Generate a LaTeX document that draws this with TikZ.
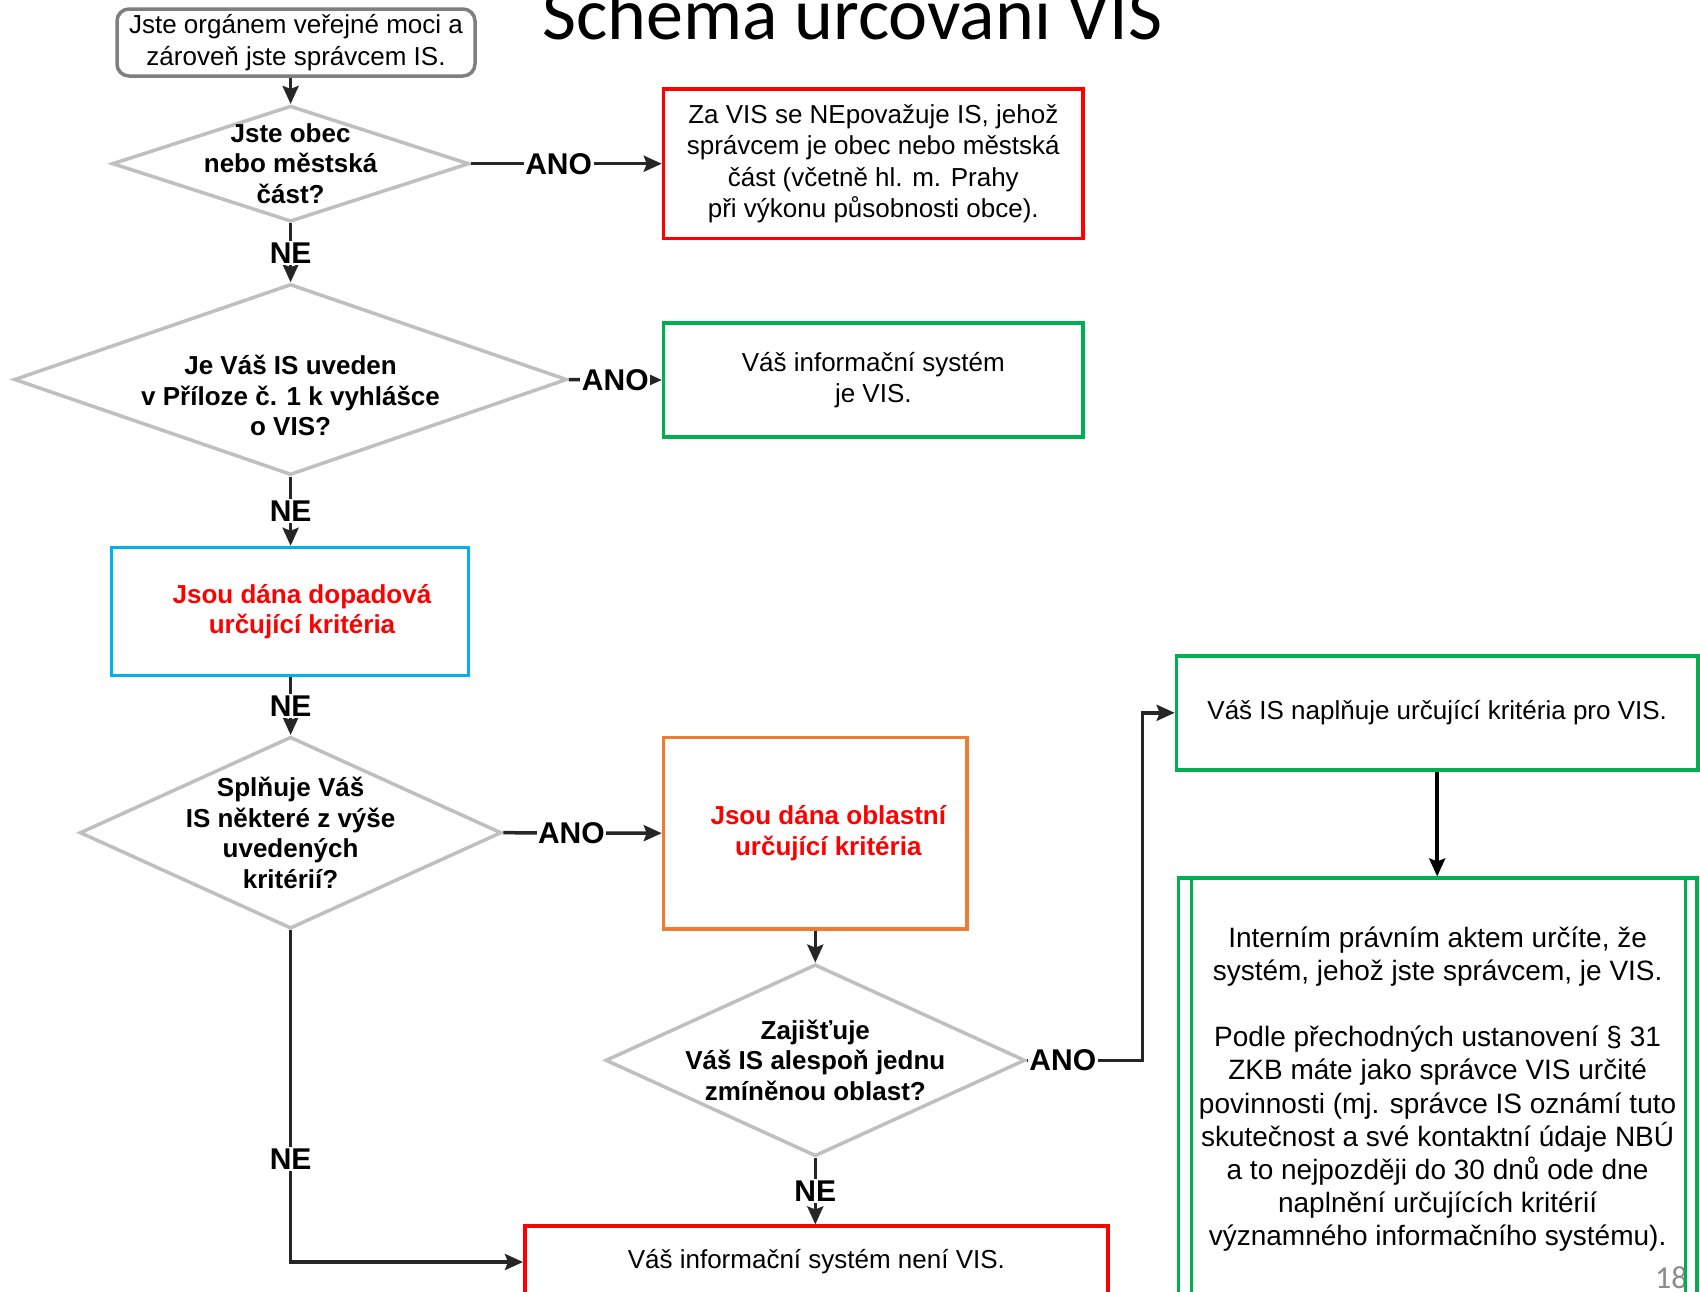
\documentclass[tikz,border=0pt]{standalone}
\usepackage{fontspec}
\setmainfont{Liberation Sans}
\newfontfamily\titlefont{Carlito}
\usetikzlibrary{arrows.meta,shapes.geometric}
\definecolor{visred}{HTML}{FF0000}
\definecolor{visgreen}{HTML}{00B050}
\definecolor{visblue}{HTML}{00B0F0}
\definecolor{visorange}{HTML}{ED7D31}
\definecolor{diagray}{HTML}{BFBFBF}
\definecolor{startgray}{HTML}{7F7F7F}
\definecolor{arrgray}{HTML}{262626}
\definecolor{numgray}{HTML}{8C8C8C}
\tikzset{
  box/.style={draw,line width=3.5pt,inner sep=0pt,align=center,
    font=\fontsize{26}{31.4}\selectfont},
  decision/.style={diamond,draw=diagray,line width=3.5pt,inner sep=0pt},
  qtext/.style={align=center,font=\bfseries\fontsize{26}{30.5}\selectfont},
  redtext/.style={text=visred,font=\bfseries\fontsize{26}{30.4}\selectfont},
  answer/.style={fill=white,inner sep=1.5pt,font=\bfseries\fontsize{30}{36}\selectfont},
  arr/.style={draw=arrgray,line width=3.5pt,-{Stealth[length=18pt,width=16pt,inset=3pt]}},
}
\begin{document}
\begin{tikzpicture}[x=1pt,y=-1pt]
\path[use as bounding box,fill=white] (0,0) rectangle (1700,1291);
\node (title) at (542,39) [anchor=base west,inner sep=0pt,
  font=\titlefont\fontsize{74}{80}\selectfont] {Schéma určování VIS};
\node (pagenum) at (1655,1288) [anchor=base west,inner sep=0pt,text=numgray,
  font=\titlefont\fontsize{32}{36}\selectfont] {18};

\node (start) at (296,42.5) [box,draw=startgray,rounded corners=12pt,
  minimum width=358pt,minimum height=67pt] {Jste orgánem veřejné moci a\\zároveň jste správcem IS.};
\node (obec) at (290.6,163.7) [decision,minimum width=357pt,minimum height=116pt,
  label={[qtext]center:Jste obec\\nebo městská\\část?}] {};
\node (notvis) at (873.3,163.7) [box,draw=visred,minimum width=419.6pt,minimum height=149.6pt]
  {Za VIS se NEpovažuje IS, jehož\\správcem je obec nebo městská\\část (včetně hl. m. Prahy\\při výkonu působnosti obce).};
\node (annex) at (290.6,379.5) [decision,minimum width=553pt,minimum height=191pt,
  label={[qtext,yshift=-16pt]center:Je Váš IS uveden\\v Příloze č. 1 k vyhlášce\\o VIS?}] {};
\node (isvis) at (873.3,380) [box,draw=visgreen,minimum width=419.6pt,minimum height=113.8pt]
  {Váš informační systém\\je VIS.};
\node (impact) at (290,611.5) [box,draw=visblue,redtext,minimum width=356.7pt,minimum height=128pt]
  {\hspace*{24pt}Jsou dána dopadová\\\hspace*{24pt}určující kritéria};
\node (meets) at (290.6,832.7) [decision,minimum width=421.8pt,minimum height=191.9pt,
  label={[qtext]center:Splňuje Váš\\IS některé z výše\\uvedených\\kritérií?}] {};
\node (area) at (815.3,833.2) [box,draw=visorange,redtext,minimum width=303.6pt,minimum height=191.9pt]
  {\hspace*{26pt}Jsou dána oblastní\\\hspace*{26pt}určující kritéria};
\node (ensures) at (815.3,1060.3) [decision,minimum width=419.7pt,minimum height=191.9pt,
  label={[qtext]center:Zajišťuje\\Váš IS alespoň jednu\\zmíněnou oblast?}] {};
\node (fulfils) at (1437.2,712.8) [box,draw=visgreen,minimum width=521.6pt,minimum height=113.9pt]
  {Váš IS naplňuje určující kritéria pro VIS.};
\node (duties) at (1437.6,1089.1) [box,draw=visgreen,minimum width=518.3pt,minimum height=421.8pt,
  font=\fontsize{28}{33.2}\selectfont]
  {Interním právním aktem určíte, že\\systém, jehož jste správcem, je VIS.\\[33.2pt]
   Podle přechodných ustanovení § 31\\ZKB máte jako správce VIS určité\\povinnosti (mj. správce IS oznámí tuto\\skutečnost a své kontaktní údaje NBÚ\\a to nejpozději do 30 dnů ode dne\\naplnění určujících kritérií\\významného informačního systému).};
\draw[draw=visgreen,line width=3.5pt] ([xshift=15pt]duties.north west) -- ([xshift=15pt]duties.south west);
\draw[draw=visgreen,line width=3.5pt] ([xshift=-13pt]duties.north east) -- ([xshift=-13pt]duties.south east);
\node (notvisb) at (816.4,1262) [box,draw=visred,minimum width=583.3pt,minimum height=71.6pt]
  {Váš informační systém není VIS.};
\coordinate (bend) at (1142.7,1060.3);

\draw[arr] (start.south -| obec.north) -- (obec.north);
\draw[arr] (obec.east) -- node[answer,pos=0.46] {ANO} (notvis.west);
\draw[arr] (obec.south) -- node[answer] {NE} (annex.north);
\draw[arr] (annex.east) -- node[answer] {ANO} (isvis.west);
\draw[arr] (annex.south) -- node[answer] {NE} (impact.north -| annex.south);
\draw[arr] (impact.south -| meets.north) -- node[answer] {NE} (meets.north);
\draw[arr] (meets.east) -- node[answer,pos=0.43] {ANO} (area.west);
\draw[arr] (area.south) -- (ensures.north);
\draw[arr] (ensures.south) -- node[answer] {NE} (notvisb.north -| ensures.south);
\draw[arr] (meets.south) -- node[answer,pos=0.69] {NE} (meets.south |- notvisb.west) -- (notvisb.west);
\draw[arr] (ensures.east) -- node[answer,pos=0.31] {ANO} (bend) |- (fulfils.west);
\draw[arr,draw=black] (fulfils.south) -- (fulfils.south |- duties.north);
\end{tikzpicture}
\end{document}
